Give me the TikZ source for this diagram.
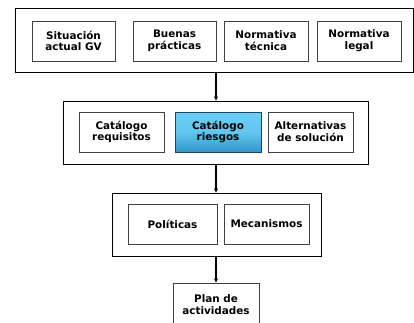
\documentclass[tikz,border=0pt]{standalone}
\usepackage{fontspec}
\setmainfont{DejaVu Sans}
\usetikzlibrary{arrows.meta}
\definecolor{boxedge}{HTML}{404040}
\definecolor{bluetop}{HTML}{6ACFF7}
\definecolor{bluebot}{HTML}{3294C8}
\definecolor{blueedge}{HTML}{1D4560}
\tikzset{
  group/.style={draw=black, line width=0.9pt},
  item/.style={draw=boxedge, line width=1pt, fill=white},
  hot/.style={draw=blueedge, line width=1pt, top color=bluetop, bottom color=bluebot, middle color=bluetop!85!bluebot},
  lbl/.style={font=\bfseries\fontsize{10.4}{11.8}\selectfont, align=center, inner sep=0pt},
  flow/.style={line width=1.4pt, -{Latex[length=4.5pt,width=4.5pt]}}
}
\begin{document}
\begin{tikzpicture}[x=1pt,y=-1pt]
\useasboundingbox[fill=white] (0,0) rectangle (414,322);
\clip (0,0) rectangle (414,322);

% sources
\draw[group] (15,8) rectangle (413,72);
\coordinate (g1b) at (216,72);
\draw[item] (32,21) rectangle node[lbl] (s1) {Situación\\actual GV} (115,61);
\draw[item] (133,21) rectangle node[lbl] (s2) {Buenas\\prácticas} (216,61);
\draw[item] (224,21) rectangle node[lbl] (s3) {Normativa\\técnica} (308,61);
\draw[item] (317,21) rectangle node[lbl] (s4) {Normativa\\legal} (401,61);

% catalogues
\draw[group] (63,101) rectangle (368,164);
\coordinate (g2t) at (216,101);
\coordinate (g2b) at (216,164);
\draw[item] (79,112) rectangle node[lbl] (c1) {Catálogo\\requisitos} (164,152);
\draw[hot] (175,112) rectangle node[lbl] (c2) {Catálogo\\riesgos} (261,152);
\draw[item] (268,112) rectangle node[lbl] (c3) {Alternativas\\de solución} (353,152);

% policies and mechanisms
\draw[group] (112,193) rectangle (321,256);
\coordinate (g3t) at (216,193);
\coordinate (g3b) at (216,256);
\draw[item] (128,204) rectangle node[lbl] (p1) {Políticas} (217,244);
\draw[item] (224,204) rectangle node[lbl] (p2) {Mecanismos} (309,244);

% plan
\draw[item] (173,283) rectangle (259,340);
\node[lbl] (plan) at (216,305) {Plan de\\actividades};
\coordinate (pt) at (216,283);

\draw[flow] (g1b) -- (g2t);
\draw[flow] (g2b) -- (g3t);
\draw[flow] (g3b) -- (pt);
\end{tikzpicture}
\end{document}
